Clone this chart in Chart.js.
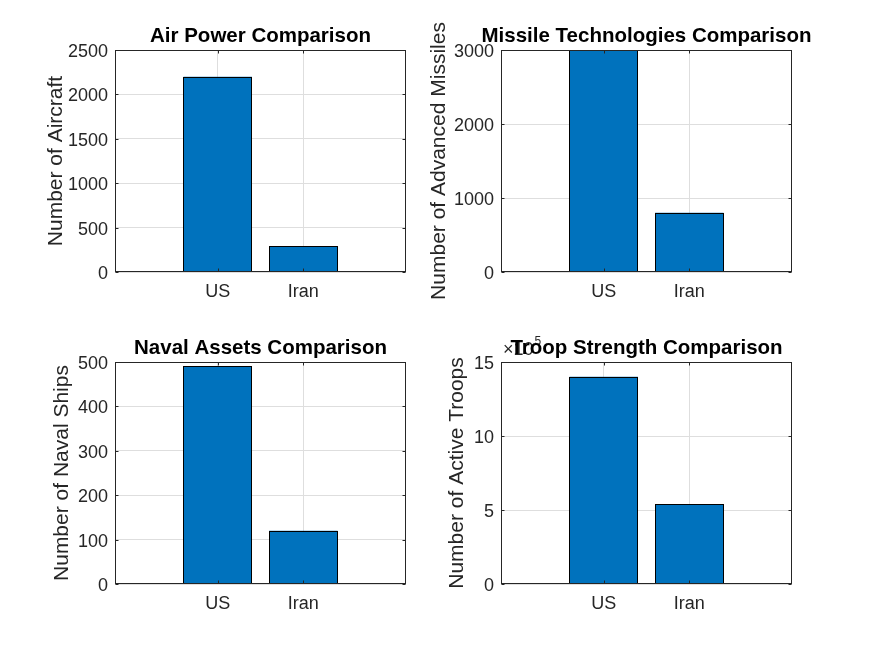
<!DOCTYPE html>
<html>
<head>
<meta charset="utf-8">
<script src="https://cdn.jsdelivr.net/npm/chart.js@4/dist/chart.umd.min.js"></script>
<style>
  body { margin: 0; background: #fff; }
  #wrap { position: relative; width: 875px; height: 656px; }
  #wrap canvas { position: absolute; left: 0; top: 0; }
</style>
</head>
<body>
<div id="wrap">
  <canvas id="air" width="875" height="656"></canvas>
  <canvas id="missile" width="875" height="656"></canvas>
  <canvas id="naval" width="875" height="656"></canvas>
  <canvas id="troop" width="875" height="656"></canvas>
</div>
<script>
// data
const countries = ["US", "Iran"];
const aircraft = [2200, 290];
const missiles = [3000, 800];
const navalShips = [490, 120];
const activeTroops = [1400000, 540000];

const aircraftTicks = [0, 500, 1000, 1500, 2000, 2500];
const missileTicks = [0, 1000, 2000, 3000];
const navalTicks = [0, 100, 200, 300, 400, 500];
const troopTicks = [0, 500000, 1000000, 1500000];

const FONT = "'Liberation Sans', Arial, Helvetica, sans-serif";
const TEXT = "#262626";
const W = 875, H = 656;
const YW = 60, XH = 40;

// draws the box, inward tick marks, title, y label and exponent like matlab
const panelDecor = {
  id: "panelDecor",
  afterDatasetsDraw(chart) {
    // crisp black edge round each bar, from the bar elements' own geometry
    const ctx = chart.ctx;
    ctx.save();
    ctx.strokeStyle = "#000";
    ctx.lineWidth = 1;
    chart.getDatasetMeta(0).data.forEach(bar => {
      const p = bar.getProps(["x", "y", "base", "width"], true);
      const x0 = Math.round(p.x - p.width / 2) + 0.5;
      const x1 = Math.round(p.x + p.width / 2) - 0.5;
      const y0 = Math.round(p.y) + 0.5;
      const y1 = Math.round(p.base) - 0.5;
      ctx.strokeRect(x0, y0, x1 - x0, y1 - y0);
    });
    ctx.restore();
  },
  afterDraw(chart, args, opts) {
    const ctx = chart.ctx;
    const a = chart.chartArea;
    const l = Math.round(a.left) + 0.5, r = Math.round(a.right) - 0.5;
    const t = Math.round(a.top) + 0.5, b = Math.round(a.bottom) - 0.5;
    ctx.save();
    ctx.strokeStyle = TEXT;
    ctx.lineWidth = 1;
    ctx.strokeRect(l, t, r - l, b - t);

    ctx.beginPath();
    chart.scales.y.ticks.forEach(tk => {
      const y = Math.round(chart.scales.y.getPixelForValue(tk.value)) + 0.5;
      ctx.moveTo(l, y); ctx.lineTo(l + 3, y);
      ctx.moveTo(r, y); ctx.lineTo(r - 3, y);
    });
    chart.scales.x.ticks.forEach(tk => {
      const x = Math.round(chart.scales.x.getPixelForValue(tk.value)) + 0.5;
      ctx.moveTo(x, b); ctx.lineTo(x, b - 3);
      ctx.moveTo(x, t); ctx.lineTo(x, t + 3);
    });
    ctx.stroke();

    if (opts.exponent) {
      ctx.fillStyle = TEXT;
      ctx.textAlign = "left";
      ctx.textBaseline = "alphabetic";
      ctx.font = "18px " + FONT;
      ctx.fillText("\u00d710", a.left + 2, a.top - 7);
      const w = ctx.measureText("\u00d710").width;
      ctx.font = "12px " + FONT;
      ctx.fillText(opts.exponent, a.left + 3 + w, a.top - 17);
    }

    ctx.fillStyle = "#000";
    ctx.font = "bold 20.5px " + FONT;
    ctx.textAlign = "center";
    ctx.textBaseline = "alphabetic";
    ctx.fillText(opts.title, (a.left + a.right) / 2, a.top - 8);

    ctx.fillStyle = TEXT;
    ctx.font = "21px " + FONT;
    ctx.translate(opts.labelX, (a.top + a.bottom) / 2);
    ctx.rotate(-Math.PI / 2);
    ctx.fillText(opts.ylabel, 0, 0);
    ctx.restore();
  }
};

function makePanel(id, values, yTicks, area, title, ylabel, labelX, scaleDiv, exponent) {
  const [L, T, R, B] = area;
  new Chart(document.getElementById(id), {
    type: "bar",
    data: {
      datasets: [{
        data: values.map((v, i) => ({ x: i + 1, y: v })),
        backgroundColor: "#0072BD",
        borderWidth: 0,
        inflateAmount: 0,
        barPercentage: 0.8,
        categoryPercentage: 1
      }]
    },
    options: {
      responsive: false,
      animation: false,
      events: [],
      layout: { padding: { left: L - YW, top: T, right: W - R, bottom: H - B - XH } },
      plugins: {
        legend: { display: false },
        tooltip: { enabled: false },
        panelDecor: { title: title, ylabel: ylabel, labelX: labelX, exponent: exponent }
      },
      scales: {
        x: {
          type: "linear",
          min: -0.2,
          max: 3.2,
          offset: false,
          afterFit: s => { s.height = XH; },
          afterBuildTicks: s => { s.ticks = countries.map((c, i) => ({ value: i + 1 })); },
          ticks: {
            padding: 9,
            color: TEXT,
            font: { family: FONT, size: 18 },
            callback: v => countries[v - 1]
          },
          grid: { color: "#dedede", drawTicks: false, offset: false },
          border: { display: false }
        },
        y: {
          min: yTicks[0],
          max: yTicks[yTicks.length - 1],
          afterFit: s => { s.width = YW; },
          afterBuildTicks: s => { s.ticks = yTicks.map(v => ({ value: v })); },
          ticks: {
            padding: 7,
            labelOffset: 2,
            color: TEXT,
            font: { family: FONT, size: 18 },
            callback: v => String(v / scaleDiv)
          },
          grid: { color: "#dedede", drawTicks: false },
          border: { display: false }
        }
      }
    },
    plugins: [panelDecor]
  });
}

makePanel("air", aircraft, aircraftTicks, [115, 50, 406, 272],
  "Air Power Comparison", "Number of Aircraft", 62, 1, null);
makePanel("missile", missiles, missileTicks, [501, 50, 792, 272],
  "Missile Technologies Comparison", "Number of Advanced Missiles", 445, 1, null);
makePanel("naval", navalShips, navalTicks, [115, 362, 406, 584],
  "Naval Assets Comparison", "Number of Naval Ships", 68, 1, null);
makePanel("troop", activeTroops, troopTicks, [501, 362, 792, 584],
  "Troop Strength Comparison", "Number of Active Troops", 463, 100000, "5");
</script>
</body>
</html>
